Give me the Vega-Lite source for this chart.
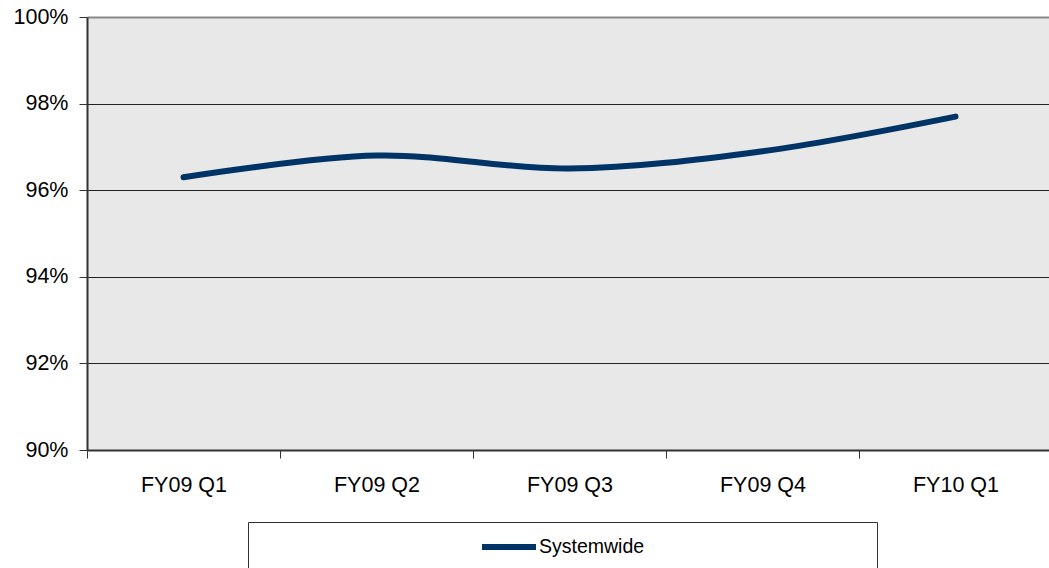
{
  "$schema": "https://vega.github.io/schema/vega-lite/v6.json",
  "width": 965,
  "height": 433,
  "autosize": {"type": "none"},
  "padding": {"left": 87, "top": 17, "right": 0, "bottom": 118},
  "background": "white",
  "data": {
    "values": [
      {"quarter": "FY09 Q1", "value": 0.963, "series": "Systemwide"},
      {"quarter": "FY09 Q2", "value": 0.968, "series": "Systemwide"},
      {"quarter": "FY09 Q3", "value": 0.965, "series": "Systemwide"},
      {"quarter": "FY09 Q4", "value": 0.969, "series": "Systemwide"},
      {"quarter": "FY10 Q1", "value": 0.977, "series": "Systemwide"}
    ]
  },
  "mark": {"type": "line", "strokeWidth": 6, "strokeCap": "round", "strokeJoin": "round", "interpolate": "catmull-rom"},
  "encoding": {
    "x": {
      "field": "quarter", "type": "nominal", "sort": null,
      "scale": {"type": "band", "paddingInner": 0, "paddingOuter": 0},
      "axis": {
        "title": null, "labelAngle": 0, "grid": false,
        "tickBand": "extent", "tickSize": 8, "tickColor": "#333", "tickWidth": 1,
        "domainColor": "#333", "domainWidth": 2,
        "labelFont": "Liberation Sans", "labelFontSize": 21.5, "labelColor": "black",
        "labelPadding": 16
      }
    },
    "y": {
      "field": "value", "type": "quantitative",
      "scale": {"domain": [0.9, 1.0], "nice": false, "zero": false},
      "axis": {
        "title": null, "format": ".0%",
        "values": [0.9, 0.92, 0.94, 0.96, 0.98, 1.0],
        "grid": true,
        "gridColor": {"condition": {"test": "datum.value >= 0.999", "value": "#888888"}, "value": "#222222"},
        "gridWidth": {"condition": {"test": "datum.value >= 0.999", "value": 2}, "value": 1},
        "tickSize": 8, "tickColor": "#333", "tickWidth": 1,
        "domainColor": "#333", "domainWidth": 2,
        "labelFont": "Liberation Sans", "labelFontSize": 21.5, "labelColor": "black",
        "labelPadding": 11
      }
    },
    "color": {
      "field": "series", "type": "nominal",
      "scale": {"range": ["#003366"]},
      "legend": {
        "orient": "none", "legendX": 161, "legendY": 505,
        "title": "\u00a0", "titleOrient": "right", "titlePadding": 220,
        "strokeColor": "#333", "padding": 13,
        "symbolType": "M-5,0H1", "symbolSize": 324, "symbolStrokeWidth": 6,
        "symbolOffset": 254, "labelOffset": 0,
        "labelFont": "Liberation Sans", "labelFontSize": 19.5, "labelColor": "black"
      }
    }
  },
  "config": {
    "view": {"fill": "#e8e8e8", "stroke": null}
  }
}
